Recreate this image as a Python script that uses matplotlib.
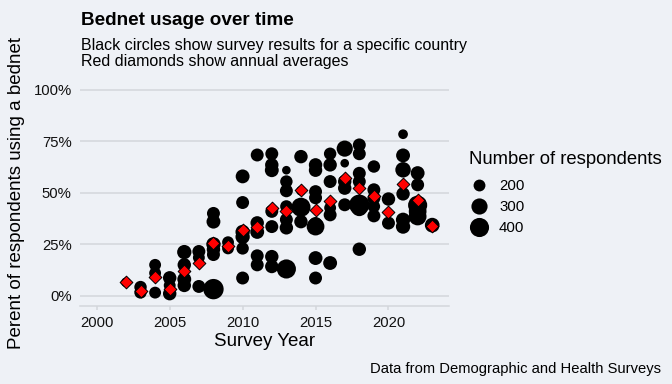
import matplotlib
matplotlib.use("Agg")
import matplotlib.pyplot as plt
from matplotlib.lines import Line2D
import numpy as np

plt.rcParams['font.family'] = ['Liberation Sans', 'DejaVu Sans']

# ---- survey results (one entry per country survey) ----
survey_year = [2002,
               2003, 2003,
               2004, 2004, 2004,
               2005, 2005, 2005,
               2006, 2006, 2006, 2006,
               2007, 2007, 2007,
               2008, 2008, 2008, 2008, 2008, 2008,
               2009, 2009,
               2010, 2010, 2010, 2010, 2010, 2010,
               2011, 2011, 2011, 2011, 2011,
               2012, 2012, 2012, 2012, 2012, 2012, 2012,
               2013, 2013, 2013, 2013, 2013, 2013, 2013,
               2014, 2014, 2014, 2014,
               2015, 2015, 2015, 2015, 2015, 2015, 2015, 2015,
               2016, 2016, 2016, 2016, 2016, 2016,
               2017, 2017, 2017, 2017, 2017,
               2018, 2018, 2018, 2018, 2018, 2018, 2018,
               2019, 2019, 2019, 2019, 2019,
               2020, 2020,
               2021, 2021, 2021, 2021, 2021, 2021,
               2022, 2022, 2022, 2022, 2022,
               2023]
pct_using = [6.5,
             4.2, 1.6,
             15.0, 11.0, 1.5,
             8.7, 5.0, 1.0,
             21.2, 15.0, 8.0, 5.0,
             21.5, 18.5, 4.5,
             40.0, 36.0, 25.0, 22.5, 20.0, 3.2,
             26.0, 23.0,
             58.0, 45.3, 31.0, 28.6, 23.0, 8.6,
             68.4, 35.4, 31.0, 19.4, 15.0,
             69.0, 63.6, 61.0, 41.0, 33.6, 19.0, 14.2,
             61.0, 55.5, 51.0, 43.4, 37.0, 33.0, 13.0,
             67.6, 51.0, 43.0, 36.0,
             63.6, 61.0, 50.6, 47.6, 35.0, 33.6, 18.3, 8.6,
             69.0, 63.6, 55.5, 42.7, 39.3, 15.9,
             71.5, 64.4, 55.5, 52.3, 44.2,
             73.3, 69.0, 59.5, 55.5, 44.2, 42.6, 22.6,
             62.8, 51.5, 47.4, 43.4, 38.8,
             47.0, 35.3,
             78.5, 68.2, 61.2, 49.5, 36.9, 33.6,
             59.6, 53.9, 44.0, 41.0, 38.5,
             34.3]
respondents = [170,
               210, 210,
               200, 200, 200,
               230, 200, 230,
               250, 230, 240, 230,
               220, 200, 220,
               220, 240, 250, 230, 220, 450,
               200, 200,
               240, 220, 250, 250, 210, 220,
               220, 230, 240, 220, 220,
               220, 230, 240, 220, 220, 230, 230,
               160, 210, 220, 210, 220, 230, 400,
               230, 170, 400, 230,
               230, 230, 220, 220, 230, 350, 240, 220,
               210, 230, 220, 200, 220, 240,
               300, 160, 230, 230, 220,
               220, 220, 220, 220, 450, 300, 230,
               210, 220, 220, 210, 220,
               230, 220,
               170, 240, 280, 230, 250, 250,
               240, 220, 400, 350, 350,
               260]

# ---- annual averages ----
avg_year = list(range(2002, 2024))
avg_pct = [6.5, 2.4, 9.2, 3.2, 12.0, 15.9, 25.6, 24.4, 32.0, 33.3, 42.6,
           41.0, 51.5, 41.5, 45.8, 57.4, 52.3, 48.7, 40.6, 54.2, 46.3, 34.1]

legend_values = [200, 300, 400]
x_ticks = [2000, 2005, 2010, 2015, 2020]
y_ticks = [0, 25, 50, 75, 100]


def diam_pt(v):
    d_px = 6.0 + 0.83 * np.sqrt(np.maximum(np.asarray(v, float) - 150, 0))
    return d_px * 0.72


BG = '#eef1f6'
GRID = '#d3d6db'

fig = plt.figure(figsize=(6.72, 3.84), dpi=100, facecolor=BG)
ax = fig.add_axes([80 / 672, 1 - 306 / 384, 369 / 672, 226.3 / 384], facecolor=BG)

ax.scatter(survey_year, pct_using, s=diam_pt(respondents) ** 2, c='black',
           edgecolors='none', zorder=3)
ax.scatter(avg_year, avg_pct, marker='D', s=42, c='#ff0000',
           edgecolors='black', linewidths=0.7, zorder=4)

ax.set_xlim(1998.85, 2024.15)
ax.set_ylim(-5, 105)
ax.set_xticks(x_ticks)
ax.set_yticks(y_ticks)
ax.set_yticklabels([f"{t}%" for t in y_ticks])
ax.grid(axis='y', color=GRID, lw=1.1)
ax.grid(axis='x', visible=False)
ax.set_axisbelow(True)
for s in ['top', 'right', 'left']:
    ax.spines[s].set_visible(False)
ax.spines['bottom'].set_color(GRID)
ax.spines['bottom'].set_linewidth(1.1)
ax.tick_params(axis='x', direction='out', length=3, width=1.1, color=GRID,
               labelsize=10.7, labelcolor='#111111', pad=4)
ax.tick_params(axis='y', length=0, labelsize=10.7, labelcolor='#111111', pad=6)

ax.set_xlabel('Survey Year', fontsize=13.5, labelpad=2)
ax.set_ylabel('Perent of respondents using a bednet', fontsize=13.5, labelpad=6)

fig.text(81 / 672, 1 - 25 / 384, 'Bednet usage over time', fontsize=13.6,
         fontweight='bold', va='baseline', ha='left')
fig.text(81 / 672, 1 - 50 / 384,
         'Black circles show survey results for a specific country',
         fontsize=11.5, va='baseline', ha='left')
fig.text(81 / 672, 1 - 65.7 / 384, 'Red diamonds show annual averages',
         fontsize=11.5, va='baseline', ha='left')
fig.text(661 / 672, 1 - 373 / 384, 'Data from Demographic and Health Surveys',
         fontsize=10.6, va='baseline', ha='right')

# legend
fig.text(469 / 672, 1 - 164 / 384, 'Number of respondents', fontsize=13.3,
         va='baseline', ha='left')
handles = [Line2D([], [], marker='o', linestyle='', color='black',
                  markeredgewidth=0, markersize=float(diam_pt(v)))
           for v in legend_values]
leg = fig.legend(handles, [str(v) for v in legend_values],
                 loc='upper left', bbox_to_anchor=(469 / 672, 1 - 179 / 384),
                 frameon=False, fontsize=10.8, labelspacing=0.47,
                 handletextpad=0.7, borderpad=0, borderaxespad=0,
                 handlelength=1.3)

fig.savefig('out.png', dpi=100, facecolor=BG)
